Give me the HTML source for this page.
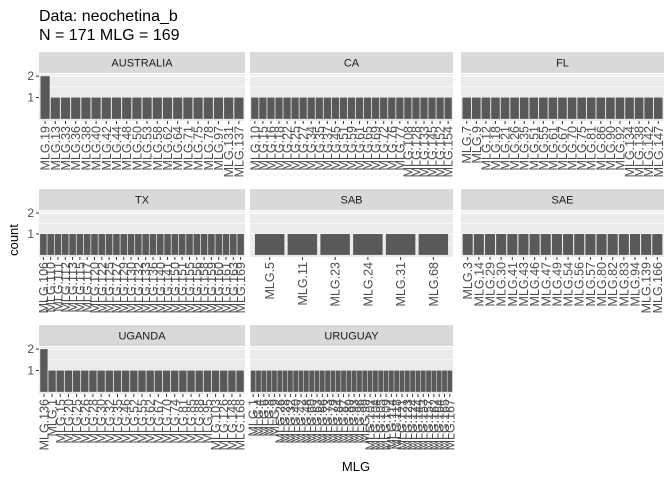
<!DOCTYPE html>
<html><head><meta charset="utf-8"><style>
html,body{margin:0;padding:0;background:#fff;}
svg{display:block;font-family:"Liberation Sans",Arial,sans-serif;}
</style></head><body>
<svg id="chart" width="672" height="480" viewBox="0 0 672 480">
<text x="39" y="21" font-size="16" fill="#000">Data: neochetina_b</text>
<text x="39" y="40" font-size="16" fill="#000">N = 171 MLG = 169</text>
<text transform="translate(18,240) rotate(-90)" text-anchor="middle" font-size="13" fill="#000">count</text>
<text x="356" y="471" text-anchor="middle" font-size="13" fill="#000">MLG</text>
</svg>
<script>
const facetNames = ["AUSTRALIA","CA","FL","TX","SAB","SAE","UGANDA","URUGUAY"];
const ausLabels = [19,13,33,36,38,40,42,44,48,50,53,58,62,64,71,75,78,97,131,137];
const ausCounts = [2,1,1,1,1,1,1,1,1,1,1,1,1,1,1,1,1,1,1,1];
const caLabels = [10,15,16,18,22,25,27,34,35,37,45,51,59,61,65,69,72,76,77,108,128,133,145,152,154];
const flLabels = [7,9,12,18,21,26,35,51,55,61,67,70,75,81,86,90,92,134,138,142,147];
const txLabels = [106,110,111,112,113,115,117,120,122,125,127,129,130,132,133,136,140,141,150,151,155,156,158,159,160,161,163,169];
const sabLabels = [5,11,23,24,31,68];
const saeLabels = [3,14,29,30,41,43,46,47,49,54,56,57,80,82,83,94,139,166];
const ugLabels = [136,1,15,20,25,26,28,30,32,35,46,52,55,62,67,70,74,81,85,88,95,103,126,148,168];
const ugCounts = [2,1,1,1,1,1,1,1,1,1,1,1,1,1,1,1,1,1,1,1,1,1,1,1,1];
const uyLabels = [1,4,6,8,9,26,28,32,40,42,48,60,63,66,73,79,84,87,89,93,96,99,102,104,105,109,114,118,121,123,124,144,153,157,162,164,165,167];
const yTicks = [1,2];

const S="http://www.w3.org/2000/svg";
const svg=document.getElementById('chart');
function mk(t,a,p){const e=document.createElementNS(S,t);for(const k in a)e.setAttribute(k,a[k]);(p||svg).appendChild(e);return e;}
const cols=[[39,245],[250,453],[461,664]];
const rows=[[74,121],[211,257],[347,394]];
const layout=[[0,0],[0,1],[0,2],[1,0],[1,1],[1,2],[2,0],[2,1]];
const allLabels=[ausLabels,caLabels,flLabels,txLabels,sabLabels,saeLabels,ugLabels,uyLabels];
function countsFor(i){if(i===0)return ausCounts;if(i===6)return ugCounts;return allLabels[i].map(()=>1);}

facetNames.forEach((name,i)=>{
  const [r,c]=layout[i];const [x0,x1]=cols[c];const [y0,y1]=rows[r];
  const H=y1-y0;const yS=v=>y1-(v+0.1)*H/2.2;
  const labs=allLabels[i];const cnt=countsFor(i);const n=labs.length;
  const u=(x1-x0)/(n+0.2);const xS=k=>x0+(k+0.6)*u;
  const g=mk('g',{});
  
  
  const st=mk('rect',{x:x0,y:y0-22,width:x1-x0,height:21,fill:'#D9D9D9'},g);
  
  
  const stt=mk('text',{x:(x0+x1)/2,y:y0-7.5,'text-anchor':'middle','font-size':'11',fill:'#1A1A1A'},g);
  stt.textContent=name;
  
  
  const bg=mk('rect',{x:x0,y:y0,width:x1-x0,height:H,fill:'#EBEBEB'},g);
  
  
  [0.5,1.5].forEach(v=>{const l=mk('line',{x1:x0,x2:x1,y1:yS(v),y2:yS(v),stroke:'#fff','stroke-width':0.6},g);
    });
  yTicks.forEach(v=>{const l=mk('line',{x1:x0,x2:x1,y1:yS(v),y2:yS(v),stroke:'#fff','stroke-width':1.1},g);
    });
  labs.forEach((lab,k)=>{
    const b=mk('rect',{x:xS(k)-0.45*u,y:yS(cnt[k]),width:0.9*u,height:yS(0)-yS(cnt[k]),fill:'#595959'},g);
    
    
    const t=mk('line',{x1:xS(k),x2:xS(k),y1:y1,y2:y1+3,stroke:'#333','stroke-width':1},g);
    
    
    const tx=mk('text',{transform:`translate(${xS(k)+4.5},${y1+5}) rotate(-90)`,'text-anchor':'end','font-size':'12.5',fill:'#4D4D4D'},g);
    tx.textContent='MLG.'+lab;
    
    
  });
  if(c===0){yTicks.forEach(v=>{
    const t=mk('line',{x1:x0-3,x2:x0,y1:yS(v),y2:yS(v),stroke:'#333','stroke-width':1},g);
    
    
    const tt=mk('text',{x:x0-5,y:yS(v)+4,'text-anchor':'end','font-size':'12',fill:'#4D4D4D'},g);
    tt.textContent=v;
    
    
  });}
});
</script>
</body></html>
